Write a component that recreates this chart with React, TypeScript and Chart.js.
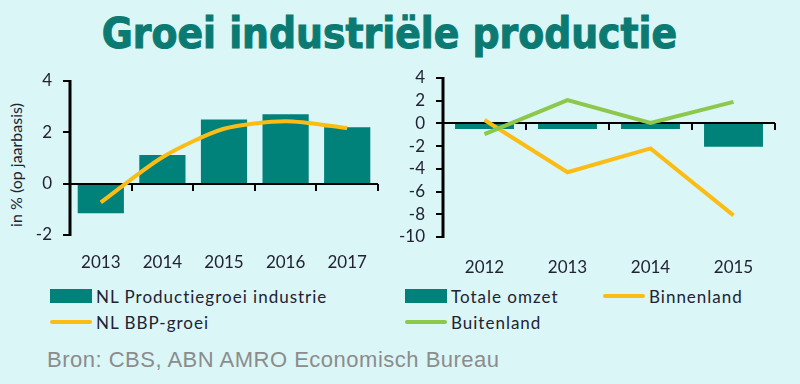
import React, { useEffect, useRef } from "react";
import { Chart, registerables } from "chart.js";
Chart.register(...registerables);

const titleText = "Groei industriële productie";
const yTitle = "in % (op jaarbasis)";
const sourceText = "Bron: CBS, ABN AMRO Economisch Bureau";

const leftCategories = ["2013", "2014", "2015", "2016", "2017"];
const productiegroei = [-1.15, 1.12, 2.5, 2.7, 2.2];
const bbpGroei = [-0.73, 1.03, 2.14, 2.43, 2.17];

const rightCategories = ["2012", "2013", "2014", "2015"];
const totaleOmzet = [-0.5, -0.5, -0.5, -2.05];
const binnenland = [0.3, -4.3, -2.2, -8.1];
const buitenland = [-0.95, 2.05, 0.05, 1.9];

const BG = "#dbf6f6";
const TEAL = "#00817a";
const ORANGE = "#fbbd15";
const GREEN = "#8cc84b";
const TEXT = "#222233";
const FONT = "Lato, 'Open Sans', sans-serif";

const axesPlugin = {
  id: "axesPlugin",
  afterDatasetDraw(chart: any, args: any) {
    if (args.index !== 0) return;
    const { ctx, chartArea, scales } = chart;
    const x = scales.x;
    const y = scales.y;
    const y0 = Math.round(y.getPixelForValue(0));
    const n = chart.data.labels.length;
    ctx.save();
    ctx.strokeStyle = "#000000";
    ctx.lineWidth = 2;
    ctx.beginPath();
    ctx.moveTo(chartArea.left, y0);
    ctx.lineTo(chartArea.right, y0);
    for (let i = 1; i <= n; i++) {
      const px = Math.round(x.getPixelForValue(i - 0.5));
      ctx.moveTo(px, y0);
      ctx.lineTo(px, y0 + 7);
    }
    ctx.stroke();
    ctx.restore();
  },
  afterDraw(chart: any) {
    const { ctx, chartArea, scales } = chart;
    const y = scales.y;
    const ax = Math.round(chartArea.left);
    const top = Math.round(y.getPixelForValue(y.max));
    const bottom = Math.round(y.getPixelForValue(y.min));
    ctx.save();
    ctx.strokeStyle = "#000000";
    ctx.lineWidth = 3;
    ctx.beginPath();
    ctx.moveTo(ax, top - 1);
    ctx.lineTo(ax, bottom + 1);
    ctx.stroke();
    ctx.lineWidth = 2;
    ctx.beginPath();
    for (const t of y.ticks) {
      const py = Math.round(y.getPixelForValue(t.value));
      ctx.moveTo(ax - 7, py);
      ctx.lineTo(ax, py);
    }
    ctx.stroke();
    ctx.restore();
  },
};

function makeOptions(min: number, max: number, yWidth: number, xHeight: number, xPad: number, padding: any) {
  return {
    animation: false,
    responsive: false,
    maintainAspectRatio: false,
    layout: { padding },
    plugins: { legend: { display: false }, tooltip: { enabled: false } },
    scales: {
      x: {
        grid: { display: false, drawTicks: false },
        border: { display: false },
        ticks: { color: TEXT, font: { family: FONT, size: 17 }, padding: xPad, maxRotation: 0 },
        afterFit: (s: any) => { s.height = xHeight; },
      },
      y: {
        min,
        max,
        ticks: { stepSize: 2, autoSkip: false, color: TEXT, font: { family: FONT, size: 17 }, padding: 12 },
        grid: { display: false, drawTicks: true, tickLength: 6 },
        border: { display: false },
        afterFit: (s: any) => {
          s.width = yWidth;
          s.paddingTop = 0;
          s.paddingBottom = 0;
        },
      },
    },
  } as any;
}

function LeftChart() {
  const ref = useRef<HTMLCanvasElement>(null);
  useEffect(() => {
    const chart = new Chart(ref.current!, {
      type: "bar",
      data: {
        labels: leftCategories,
        datasets: [
          {
            type: "bar",
            label: "NL Productiegroei industrie",
            data: productiegroei,
            backgroundColor: TEAL,
            categoryPercentage: 1,
            barPercentage: 0.75,
            order: 2,
          } as any,
          {
            type: "line",
            label: "NL BBP-groei",
            data: bbpGroei,
            borderColor: ORANGE,
            borderWidth: 4,
            pointRadius: 0,
            tension: 0.25,
            order: 1,
          } as any,
        ],
      },
      options: makeOptions(-2, 4, 70, 45, 17, { top: 21, right: 12, bottom: 0, left: 0 }),
      plugins: [axesPlugin as any],
    });
    return () => chart.destroy();
  }, []);
  return <canvas ref={ref} width={390} height={220} style={{ position: "absolute", left: 0, top: 60, zIndex: 2 }} />;
}

function RightChart() {
  const ref = useRef<HTMLCanvasElement>(null);
  useEffect(() => {
    const chart = new Chart(ref.current!, {
      type: "bar",
      data: {
        labels: rightCategories,
        datasets: [
          {
            type: "bar",
            label: "Totale omzet",
            data: totaleOmzet,
            backgroundColor: TEAL,
            categoryPercentage: 1,
            barPercentage: 0.71,
            order: 3,
          } as any,
          {
            type: "line",
            label: "Binnenland",
            data: binnenland,
            borderColor: ORANGE,
            borderWidth: 4,
            pointRadius: 0,
            tension: 0,
            order: 2,
          } as any,
          {
            type: "line",
            label: "Buitenland",
            data: buitenland,
            borderColor: GREEN,
            borderWidth: 4,
            pointRadius: 0,
            tension: 0,
            order: 1,
          } as any,
        ],
      },
      options: makeOptions(-10, 4, 53, 53, 20, { top: 18, right: 25, bottom: 0, left: 0 }),
      plugins: [axesPlugin as any],
    });
    return () => chart.destroy();
  }, []);
  return <canvas ref={ref} width={410} height={230} style={{ position: "absolute", left: 390, top: 60, zIndex: 2 }} />;
}

function LegendItem({ x, y, label, kind, color }: { x: number; y: number; label: string; kind: "box" | "line"; color: string }) {
  return (
    <div style={{ position: "absolute", left: x, top: y - 12, height: 24, display: "flex", alignItems: "center" }}>
      <div
        style={{
          width: 42,
          height: kind === "box" ? 14 : 4,
          background: color,
          marginRight: 4,
          borderRadius: kind === "line" ? 2 : 0,
        }}
      />
      <span style={{ fontFamily: FONT, fontSize: 17, letterSpacing: "1px", color: TEXT, whiteSpace: "nowrap" }}>{label}</span>
    </div>
  );
}

export default function App() {
  useEffect(() => {
    document.body.style.margin = "0";
  }, []);
  return (
    <div style={{ position: "fixed", left: 0, top: 0, width: 800, height: 384, background: BG, overflow: "hidden" }}>
      <div
        style={{
          position: "absolute",
          left: 0,
          width: 779,
          top: 9,
          height: 50,
          textAlign: "center",
          fontFamily: "'Liberation Sans Narrow', 'DejaVu Sans Condensed', sans-serif",
          fontWeight: 700,
          fontSize: 42,
          color: "#0b7a72",
          WebkitTextStroke: "1px #0b7a72",
          lineHeight: "50px",
          whiteSpace: "nowrap",
          zIndex: 1,
        }}
      >
        {titleText}
      </div>
      <LeftChart />
      <RightChart />
      <div
        style={{
          position: "absolute",
          left: 15,
          top: 165,
          transform: "translate(-50%, -50%) rotate(-90deg)",
          fontFamily: FONT,
          fontSize: 16,
          color: TEXT,
          whiteSpace: "nowrap",
          zIndex: 1,
          pointerEvents: "none",
        }}
      >
        {yTitle}
      </div>
      <LegendItem x={50} y={296} label="NL Productiegroei industrie" kind="box" color={TEAL} />
      <LegendItem x={50} y={322} label="NL BBP-groei" kind="line" color={ORANGE} />
      <LegendItem x={405} y={296} label="Totale omzet" kind="box" color={TEAL} />
      <LegendItem x={603} y={296} label="Binnenland" kind="line" color={ORANGE} />
      <LegendItem x={405} y={322} label="Buitenland" kind="line" color={GREEN} />
      <div
        style={{
          position: "absolute",
          left: 47,
          top: 347,
          fontFamily: "'Liberation Sans', Arial, sans-serif",
          fontSize: 22,
          letterSpacing: "0.5px",
          color: "#8c8c8c",
          whiteSpace: "nowrap",
          lineHeight: "26px",
        }}
      >
        {sourceText}
      </div>
    </div>
  );
}
